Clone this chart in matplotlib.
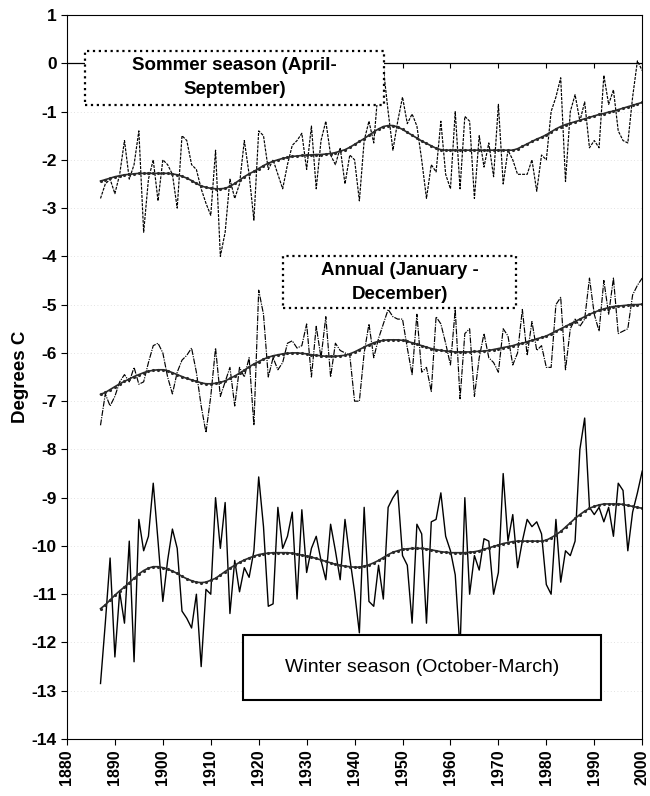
import matplotlib
matplotlib.use("Agg")
import matplotlib.pyplot as plt
from matplotlib.patches import Rectangle
import numpy as np

plt.rcParams["font.family"] = ["Liberation Sans", "DejaVu Sans"]

# years of the record
years = np.arange(1887, 2001)

# summer season (April-September), yearly values and smoothed curve
summer = [-2.8, -2.5, -2.4,
          -2.7, -2.3, -1.6, -2.4, -2.1, -1.4, -3.5, -2.4, -2.0, -2.85,
          -2.0, -2.1, -2.3, -3.0, -1.5, -1.6, -2.1, -2.2, -2.6, -2.9,
          -3.15, -1.8, -4.0, -3.5, -2.4, -2.8, -2.5, -1.6, -2.3, -3.25,
          -1.4, -1.5, -2.2, -2.0, -2.3, -2.6, -2.1, -1.7, -1.6, -1.45,
          -2.2, -1.3, -2.6, -1.6, -1.2, -1.9, -2.1, -1.75, -2.5, -1.9,
          -2.0, -2.85, -1.6, -1.2, -1.65, -0.45, -0.1, -1.0, -1.8, -1.2,
          -0.7, -1.25, -1.05, -1.3, -2.0, -2.8, -2.1, -2.25, -1.2, -2.3,
          -2.6, -1.0, -2.6, -1.1, -1.2, -2.8, -1.5, -2.15, -1.65, -2.35,
          -0.85, -2.5, -1.8, -2.0, -2.3, -2.3, -2.3, -2.0, -2.65, -1.9,
          -2.0, -1.0, -0.7, -0.3, -2.45, -1.0, -0.65, -1.2, -0.8, -1.75,
          -1.6, -1.75, -0.25, -0.85, -0.55, -1.4, -1.6, -1.65, -0.7, 0.05,
          -0.15]
summer_smooth = [-2.44, -2.41, -2.38,
                 -2.35, -2.33, -2.31, -2.30, -2.29, -2.28, -2.28, -2.28, -2.28, -2.28,
                 -2.28, -2.28, -2.29, -2.31, -2.34, -2.38, -2.43, -2.49, -2.54, -2.57,
                 -2.59, -2.60, -2.60, -2.59, -2.55, -2.49, -2.42, -2.35, -2.29, -2.24,
                 -2.18, -2.12, -2.07, -2.03, -2.00, -1.97, -1.95, -1.93, -1.92, -1.91,
                 -1.90, -1.90, -1.89, -1.89, -1.88, -1.87, -1.85, -1.82, -1.79, -1.74,
                 -1.68, -1.62, -1.56, -1.49, -1.42, -1.36, -1.31, -1.29, -1.29, -1.32,
                 -1.37, -1.43, -1.49, -1.55, -1.61, -1.66, -1.71, -1.76, -1.79, -1.80,
                 -1.80, -1.80, -1.80, -1.80, -1.80, -1.80, -1.80, -1.80, -1.80, -1.80,
                 -1.80, -1.80, -1.80, -1.80, -1.77, -1.72, -1.67, -1.62, -1.57, -1.53,
                 -1.48, -1.42, -1.36, -1.31, -1.27, -1.24, -1.21, -1.18, -1.15, -1.12,
                 -1.09, -1.06, -1.04, -1.01, -0.99, -0.96, -0.93, -0.90, -0.87, -0.84,
                 -0.81]

# annual (January-December)
annual = [-7.5, -6.85, -7.1,
          -6.9, -6.6, -6.45, -6.6, -6.3, -6.65, -6.6, -6.2, -5.85, -5.8,
          -6.0, -6.5, -6.85, -6.4, -6.15, -6.05, -5.9, -6.4, -7.1, -7.65,
          -6.9, -5.9, -6.9, -6.6, -6.3, -7.1, -6.3, -6.5, -6.1, -7.5,
          -4.7, -5.2, -6.5, -6.1, -6.35, -6.2, -5.8, -5.75, -5.9, -5.85,
          -5.4, -6.5, -5.45, -6.1, -5.25, -6.5, -5.8, -5.95, -6.0, -6.05,
          -7.0, -7.0, -6.0, -5.4, -6.1, -5.7, -5.4, -5.1, -5.25, -5.3,
          -5.3, -5.9, -6.45, -5.2, -6.4, -6.3, -6.8, -5.25, -5.4, -5.8,
          -6.25, -5.1, -6.95, -5.6, -5.5, -6.9, -6.1, -5.6, -6.1, -6.2,
          -6.4, -5.5, -5.65, -6.25, -6.0, -5.1, -6.05, -5.35, -5.95, -5.85,
          -6.3, -6.3, -5.0, -4.85, -6.35, -5.5, -5.3, -5.45, -5.3, -4.45,
          -5.2, -5.55, -4.5, -5.2, -4.45, -5.6, -5.55, -5.5, -4.8, -4.6,
          -4.45]
annual_smooth = [-6.86, -6.82, -6.76,
                 -6.70, -6.64, -6.59, -6.54, -6.49, -6.45, -6.41, -6.38, -6.36, -6.35,
                 -6.35, -6.37, -6.41, -6.45, -6.49, -6.53, -6.56, -6.59, -6.62, -6.64,
                 -6.64, -6.63, -6.61, -6.58, -6.53, -6.48, -6.42, -6.36, -6.29, -6.23,
                 -6.18, -6.13, -6.09, -6.06, -6.04, -6.02, -6.01, -6.00, -6.00, -6.01,
                 -6.02, -6.04, -6.05, -6.06, -6.07, -6.07, -6.07, -6.06, -6.05, -6.02,
                 -5.98, -5.93, -5.88, -5.83, -5.79, -5.76, -5.74, -5.73, -5.73, -5.73,
                 -5.74, -5.76, -5.79, -5.82, -5.85, -5.88, -5.91, -5.93, -5.95, -5.96,
                 -5.97, -5.98, -5.98, -5.98, -5.98, -5.97, -5.97, -5.96, -5.95, -5.93,
                 -5.91, -5.89, -5.87, -5.85, -5.82, -5.80, -5.77, -5.74, -5.71, -5.68,
                 -5.65, -5.60, -5.55, -5.50, -5.45, -5.40, -5.35, -5.30, -5.25, -5.20,
                 -5.16, -5.12, -5.09, -5.06, -5.04, -5.03, -5.02, -5.01, -5.00, -5.00,
                 -4.99]

# winter season (October-March)
winter = [-12.85, -11.6, -10.25,
          -12.3, -10.95, -11.6, -9.9, -12.4, -9.45, -10.1, -9.8, -8.7, -9.9,
          -11.15, -10.3, -9.65, -10.05, -11.35, -11.5, -11.7, -11.0, -12.5, -10.9,
          -11.0, -9.0, -10.05, -9.1, -11.4, -10.3, -10.95, -10.45, -10.65, -10.1,
          -8.57, -9.6, -11.25, -11.2, -9.2, -10.05, -9.8, -9.3, -11.1, -9.25,
          -10.55, -10.05, -9.8, -10.3, -10.7, -9.55, -10.1, -10.7, -9.45, -10.25,
          -10.95, -11.8, -9.2, -11.15, -11.25, -10.4, -11.1, -9.2, -9.0, -8.85,
          -10.2, -10.4, -11.6, -9.55, -9.75, -11.6, -9.5, -9.45, -8.9, -9.8,
          -10.1, -10.6, -12.15, -9.0, -11.0, -10.2, -10.5, -9.85, -9.9, -11.0,
          -10.55, -8.5, -9.9, -9.35, -10.45, -9.9, -9.45, -9.6, -9.5, -9.75,
          -10.8, -11.0, -9.45, -10.75, -10.1, -10.2, -9.9, -8.0, -7.35, -9.2,
          -9.35, -9.2, -9.5, -9.2, -9.8, -8.7, -8.85, -10.1, -9.3, -8.9,
          -8.45]
winter_smooth = [-11.30, -11.22, -11.12,
                 -11.02, -10.93, -10.85, -10.76, -10.67, -10.58, -10.51, -10.46, -10.43, -10.43,
                 -10.45, -10.48, -10.52, -10.57, -10.63, -10.68, -10.72, -10.75, -10.76, -10.75,
                 -10.71, -10.67, -10.60, -10.53, -10.46, -10.40, -10.34, -10.29, -10.25, -10.21,
                 -10.18, -10.16, -10.15, -10.14, -10.14, -10.14, -10.14, -10.15, -10.17, -10.19,
                 -10.21, -10.23, -10.26, -10.29, -10.32, -10.35, -10.38, -10.40, -10.42, -10.43,
                 -10.44, -10.44, -10.42, -10.39, -10.35, -10.30, -10.24, -10.18, -10.13, -10.10,
                 -10.07, -10.06, -10.05, -10.05, -10.05, -10.06, -10.08, -10.10, -10.12, -10.13,
                 -10.14, -10.14, -10.14, -10.14, -10.13, -10.12, -10.10, -10.07, -10.04, -10.01,
                 -9.98, -9.95, -9.93, -9.91, -9.90, -9.90, -9.90, -9.90, -9.90, -9.90,
                 -9.88, -9.83, -9.77, -9.70, -9.61, -9.52, -9.43, -9.35, -9.28, -9.22,
                 -9.18, -9.15, -9.13, -9.13, -9.13, -9.13, -9.14, -9.16, -9.18, -9.20,
                 -9.22]

# axis ticks
x_ticks = np.arange(1880, 2001, 10)
y_ticks = np.arange(-14, 2, 1)

fig = plt.figure(figsize=(6.5, 7.96), dpi=100)
ax = fig.add_axes([0.103, 0.0716, 0.885, 0.9095])

# faint gridlines, like the scanned original
for yv in y_ticks:
    ax.axhline(yv, color="#d9d9d9", lw=0.6, ls=(0, (1, 3)), zorder=0)

# zero line with small decade ticks
ax.axhline(0, color="black", lw=0.9, zorder=1)
ax.vlines(x_ticks[1:], 0, -0.1, color="black", lw=0.8)

# raw series
ax.plot(years, summer, color="black", lw=0.85, ls=(0, (2.5, 1)))
ax.plot(years, annual, color="black", lw=0.85, ls=(0, (5, 1, 1, 1)))
ax.plot(years, winter, color="black", lw=1.0, ls="-")

# smoothed series
for s in [summer_smooth, annual_smooth, winter_smooth]:
    ax.plot(years, s, color="#2a2a2a", lw=1.2, marker=".", markersize=2.5)

ax.set_xlim(1880, 2000)
ax.set_ylim(-14, 1)
ax.set_xticks(x_ticks)
ax.set_yticks(y_ticks)
ax.set_xticklabels([str(x) for x in x_ticks], rotation=90, fontsize=11.5, fontweight="bold")
ax.set_yticklabels([str(y) for y in y_ticks], fontsize=12.5, fontweight="bold")
ax.tick_params(axis="both", direction="out", length=4, width=0.8)
ax.set_ylabel("Degrees C", fontsize=13.5, fontweight="bold", labelpad=2)

for sp in ax.spines.values():
    sp.set_linewidth(0.8)

# label boxes
def label_box(x0, y0, x1, y1, text, weight, size, ls, lw):
    ax.add_patch(Rectangle((x0, y0), x1 - x0, y1 - y0, transform=ax.transAxes,
                           facecolor="white", edgecolor="black", lw=lw, ls=ls, zorder=5))
    ax.text((x0 + x1) / 2, (y0 + y1) / 2, text, transform=ax.transAxes, ha="center",
            va="center", fontsize=size, fontweight=weight, linespacing=1.55, zorder=6)

label_box(0.031, 0.876, 0.552, 0.951, "Sommer season (April-\nSeptember)", "bold", 13.5, ":", 1.6)
label_box(0.375, 0.595, 0.781, 0.667, "Annual (January -\nDecember)", "bold", 13.5, ":", 1.6)
label_box(0.306, 0.054, 0.928, 0.143, "Winter season (October-March)", "normal", 14, "-", 1.5)

fig.savefig("out.png", dpi=100)
